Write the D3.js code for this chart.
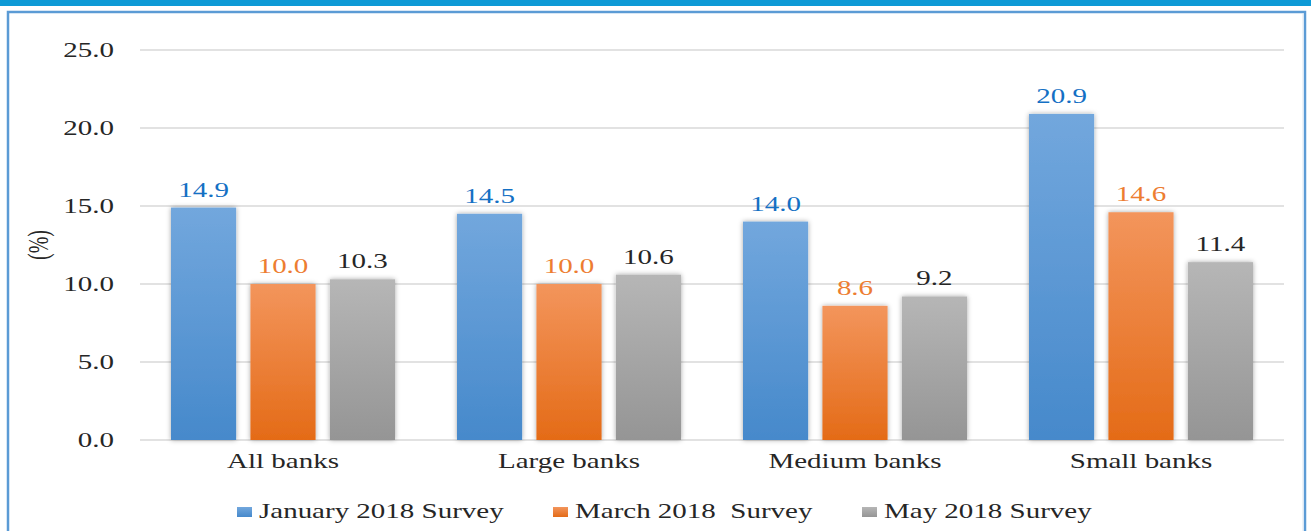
<!DOCTYPE html>
<html>
<head>
<meta charset="utf-8">
<script src="https://cdn.jsdelivr.net/npm/d3@7"></script>
<style>
  body{margin:0;background:#fff;}
  svg text{font-family:"Liberation Serif","DejaVu Serif",serif;}
</style>
</head>
<body>
<div id="chart"></div>
<script>
// data
const categories = ["All banks","Large banks","Medium banks","Small banks"];
const series = ["January 2018 Survey","March 2018  Survey","May 2018 Survey"];
const janValues = [14.9,14.5,14.0,20.9];
const marValues = [10.0,10.0,8.6,14.6];
const mayValues = [10.3,10.6,9.2,11.4];
const yTicks = [0,5,10,15,20,25];

const W = 1311, H = 531;
const SX = 1.45; // the original picture is stretched sideways
const margin = {top:50, right:27, bottom:91, left:140};
const colors = [
  {top:"#72a7dd", bot:"#4689cb", text:"#1470c4"},
  {top:"#f3955c", bot:"#e46b17", text:"#ed7d31"},
  {top:"#b6b6b6", bot:"#959595", text:"#262626"}
];

let svg = d3.select("#chart").append("svg")
  .attr("width",W).attr("height",H);

let defs = svg.append("defs");
colors.forEach(function(c,i){
  let g = defs.append("linearGradient").attr("id","grad"+i)
    .attr("x1",0).attr("y1",0).attr("x2",0).attr("y2",1);
  g.append("stop").attr("offset","0%").attr("stop-color",c.top);
  g.append("stop").attr("offset","100%").attr("stop-color",c.bot);
});
let f = defs.append("filter").attr("id","shadow")
  .attr("x","-20%").attr("y","-20%").attr("width","140%").attr("height","140%");
f.append("feDropShadow").attr("dx",0).attr("dy",0).attr("stdDeviation",2.5)
  .attr("flood-color","#000").attr("flood-opacity",0.35);

// top band and frame
svg.append("rect").attr("x",0).attr("y",0).attr("width",W).attr("height",6).attr("fill","#0e9ad6");
svg.append("rect").attr("x",8).attr("y",12).attr("width",W-14).attr("height",H-8)
  .attr("fill","none").attr("stroke","#5b9bd5").attr("stroke-width",2.5);
svg.append("line").attr("x1",1303).attr("x2",1303).attr("y1",13).attr("y2",H)
  .attr("stroke","#dde8f3").attr("stroke-width",1);

let width = W - margin.left - margin.right;
let height = H - margin.top - margin.bottom;

let x = d3.scaleBand().domain(categories).range([0,width]);
let x1 = d3.scaleBand().domain(series).range([31, x.bandwidth()-31]).paddingInner(0.18);
let y = d3.scaleLinear().domain([0,25]).range([height,0]);

let graph_area = svg.append("g")
  .attr("transform","translate("+margin.left+","+margin.top+")");

// gridlines
graph_area.selectAll(".grid").data(yTicks).enter().append("line")
  .attr("x1",0).attr("x2",width)
  .attr("y1",d=>y(d)).attr("y2",d=>y(d))
  .attr("stroke","#d9d9d9").attr("stroke-width",1.3);

// y axis labels
let yAxis = graph_area.append("g").attr("transform","translate(-26,0)")
  .call(d3.axisLeft(y).tickValues(yTicks).tickFormat(d3.format(".1f")).tickSize(0).tickPadding(0));
yAxis.select(".domain").remove();
yAxis.selectAll("text").attr("font-size",20).attr("fill","#262626")
  .attr("font-family","Liberation Serif, serif")
  .attr("x",0).attr("transform","scale("+SX+",1)");

// x axis labels
let xAxis = graph_area.append("g").attr("transform","translate(0,"+height+")")
  .call(d3.axisBottom(x).tickSize(0).tickPadding(14));
xAxis.select(".domain").remove();
xAxis.selectAll("text").attr("font-size",20).attr("fill","#262626")
  .attr("font-family","Liberation Serif, serif")
  .attr("transform","scale("+SX+",1)");

let allValues = [janValues,marValues,mayValues];
let data = [];
categories.forEach(function(c,ci){
  series.forEach(function(s,si){
    data.push({cat:c, ser:s, index:si, value:allValues[si][ci]});
  });
});

graph_area.selectAll(".bar").data(data).enter().append("rect")
  .attr("class","bar")
  .attr("x",d=>x(d.cat)+x1(d.ser))
  .attr("width",x1.bandwidth())
  .attr("y",d=>y(d.value))
  .attr("height",d=>height-y(d.value))
  .attr("fill",d=>"url(#grad"+d.index+")")
  .attr("filter","url(#shadow)");

graph_area.selectAll(".lbl").data(data).enter().append("text")
  .attr("transform",d=>"translate("+(x(d.cat)+x1(d.ser)+x1.bandwidth()/2)+","+(y(d.value)-11)+") scale("+SX+",1)")
  .attr("text-anchor","middle")
  .attr("font-size",20)
  .attr("fill",d=>colors[d.index].text)
  .text(d=>d.value.toFixed(1));

// y title
svg.append("text")
  .attr("transform","translate(48,245) scale("+SX+",1) rotate(-90)")
  .attr("text-anchor","middle").attr("font-size",20).attr("fill","#262626")
  .text("(%)");

// legend
let legendX = [237,553,862];
let legend = svg.append("g").attr("transform","translate(0,510)");
series.forEach(function(s,i){
  let g = legend.append("g").attr("transform","translate("+legendX[i]+",0)");
  g.append("rect").attr("x",0).attr("y",-3).attr("width",15).attr("height",10)
    .attr("fill","url(#grad"+i+")");
  g.append("text").attr("transform","translate(22,8) scale("+SX+",1)")
    .attr("font-size",20).attr("fill","#262626")
    .attr("xml:space","preserve").style("white-space","pre").text(s);
});
</script>
</body>
</html>
